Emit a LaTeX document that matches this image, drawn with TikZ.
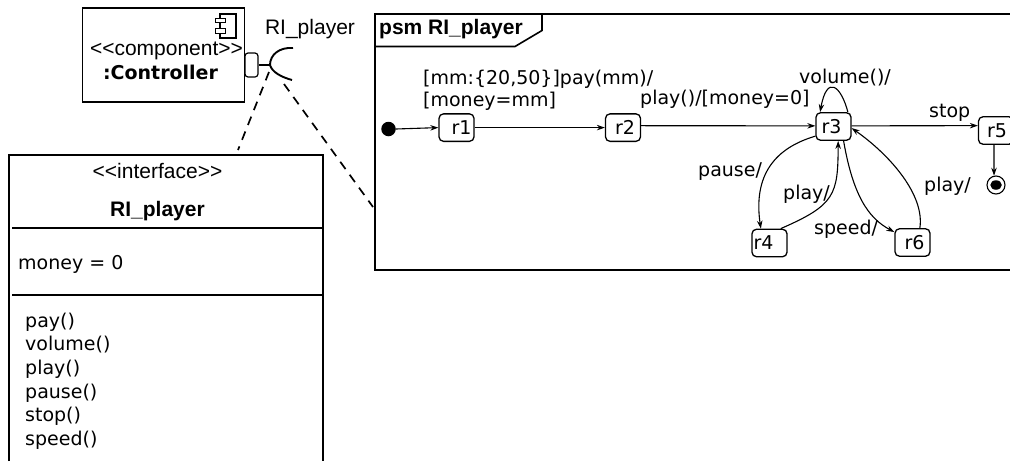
\documentclass[tikz,border=0pt]{standalone}
\usepackage{fontspec}
\setmainfont{DejaVu Sans}
\newfontfamily\libsans{Liberation Sans}
\usetikzlibrary{arrows.meta,shapes.geometric}
\tikzset{
  lab/.style={inner sep=0pt,font=\fontsize{19}{23}\selectfont,anchor=base west},
  ulab/.style={inner sep=0pt,font=\libsans\fontsize{21}{25}\selectfont,anchor=base},
  ubold/.style={inner sep=0pt,font=\libsans\bfseries\fontsize{21}{25}\selectfont,anchor=base},
  boxline/.style={line width=2pt,draw=black},
  stnode/.style={draw,line width=1.3pt,rounded corners=4.5pt,minimum width=35pt,minimum height=27.5pt,inner sep=0pt,font=\fontsize{19}{23}\selectfont},
  trans/.style={line width=1.1pt,-{Stealth[length=8pt,width=5.5pt]}},
  dep/.style={line width=1.7pt,dash pattern=on 9pt off 7pt}
}
\begin{document}
\begin{tikzpicture}[x=1pt,y=-1pt]
\useasboundingbox (0,0) rectangle (1010,461);
% component
\node[draw,line width=1.6pt,minimum width=162pt,minimum height=94pt,inner sep=0pt] (ctrl) at (163.5,55) {};
\node[draw,line width=1.3pt,minimum width=16pt,minimum height=24pt,inner sep=0pt] (icon) at (228,26) {};
\node[draw,fill=white,line width=1.3pt,minimum width=10pt,minimum height=4.5pt,inner sep=0pt] (icona) at (220.5,20.5) {};
\node[draw,fill=white,line width=1.3pt,minimum width=10pt,minimum height=4.5pt,inner sep=0pt] (iconb) at (220.5,31) {};
\node[ulab] (ctrlstereo) at (166.5,55) {<<component>>};
\node[inner sep=0pt,anchor=base,font=\bfseries\fontsize{19}{23}\selectfont] (ctrlname) at (160.5,79) {:Controller};
\node[draw,line width=1.2pt,rounded corners=3pt,minimum width=13pt,minimum height=24pt,inner sep=0pt] (port) at (251.5,65) {};
\coordinate (sockettop) at (293,48);
\coordinate (socketmid) at (270,65);
\coordinate (socketbot) at (292,80);
\draw[line width=1.6pt] (port.east) -- (socketmid);
\draw[line width=1.9pt] (sockettop) .. controls (279,47) and (270,55) .. (socketmid) .. controls (272,72) and (281,77) .. (socketbot);
\node[ulab] (rilabel) at (310,34) {RI\_player};
% interface
\coordinate (ifdepend) at (238,150);
\coordinate (frdepend) at (373,207);
\coordinate (sockdepa) at (269,72);
\coordinate (sockdepb) at (284,84);
\draw[dep] (sockdepa) -- (ifdepend);
\draw[dep] (sockdepb) -- (frdepend);
\coordinate (iftl) at (9,155);
\coordinate (iftr) at (323,155);
\coordinate (ifbl) at (9,461);
\coordinate (ifbr) at (323,461);
\draw[boxline] (ifbl) -- (iftl) -- (iftr) -- (ifbr);
\coordinate (ifa1) at (12,228);
\coordinate (ifa2) at (322,228);
\coordinate (ifb1) at (12,295);
\coordinate (ifb2) at (322,295);
\draw[boxline] (ifa1) -- (ifa2);
\draw[boxline] (ifb1) -- (ifb2);
\node[ulab] (ifstereo) at (157.5,178) {<<interface>>};
\node[ubold] (ifname) at (157.5,216) {RI\_player};
\node[lab] (money) at (18,269) {money = 0};
\node[lab] (op1) at (25,327) {pay()};
\node[lab] (op2) at (25,350.5) {volume()};
\node[lab] (op3) at (25,374) {play()};
\node[lab] (op4) at (25,398) {pause()};
\node[lab] (op5) at (25,421) {stop()};
\node[lab] (op6) at (25,445) {speed()};
% frame
\coordinate (fbl) at (375,270);
\coordinate (ftl) at (375,14);
\coordinate (fbr) at (1012,270);
\coordinate (ftr) at (1012,14);
\draw[boxline] (ftr) -- (ftl) -- (fbl) -- (fbr);
\coordinate (tab1) at (542,14);
\coordinate (tab2) at (542,30.5);
\coordinate (tab3) at (515,46.5);
\coordinate (tab4) at (375,46.5);
\draw[line width=1.6pt] (tab1) -- (tab2) -- (tab3) -- (tab4);
\node[ubold,anchor=base west] (frlabel) at (379,34) {psm RI\_player};
% states
\node[circle,fill=black,minimum size=14.5pt,inner sep=0pt] (init) at (388.5,129) {};
\node[stnode] (r1) at (456.5,127.6) {\kern10pt r1};
\node[stnode] (r2) at (623,127.6) {\kern4pt r2};
\node[stnode] (r3) at (833.5,126.5) {r3\kern4pt};
\node[stnode] (r5) at (996,130.5) {\kern2pt r5};
\node[stnode] (r4) at (769.5,243) {r4\kern12pt};
\node[stnode] (r6) at (912.5,242.5) {\kern4pt r6};
\node[circle,draw,line width=1.1pt,minimum size=18pt,inner sep=0pt] (final) at (996,185) {};
\node[ellipse,fill=black,minimum width=11.5pt,minimum height=9.5pt,inner sep=0pt] (finalin) at (996,185) {};
% transitions
\draw[trans] (init.east) -- (r1.west);
\draw[trans] (r1.east) -- (r2.west);
\draw[trans] (r2.6) -- (r3.178);
\draw[trans] (r3.2) -- (r5.165);
\draw[trans] (r5.-98) -- (final.102);
\draw[trans] (r3.45) .. controls (841,86) and (827,74) .. (r3.133);
\draw[trans] (r3.208) .. controls (775,148) and (753,175) .. (r4.121);
\draw[trans] (r4.52) .. controls (835,205) and (838,195) .. (r3.288);
\draw[trans] (r3.305) .. controls (853,195) and (868,218) .. (r6.150);
\draw[trans] (r6.63) .. controls (925,195) and (890,155) .. (r3.-5);
% labels
\node[lab] (t1a) at (423,84) {[mm:\{20,50\}]pay(mm)/};
\node[lab] (t1b) at (423,106) {[money=mm]};
\node[lab] (t2) at (640,104) {play()/[money=0]};
\node[lab] (t3) at (799,83) {volume()/};
\node[lab] (t4) at (929,117) {stop};
\node[lab] (t5) at (698,176) {pause/};
\node[lab] (t6) at (783,199) {play/};
\node[lab] (t7) at (814,234) {speed/};
\node[lab] (t8) at (924,191) {play/};
\end{tikzpicture}
\end{document}
